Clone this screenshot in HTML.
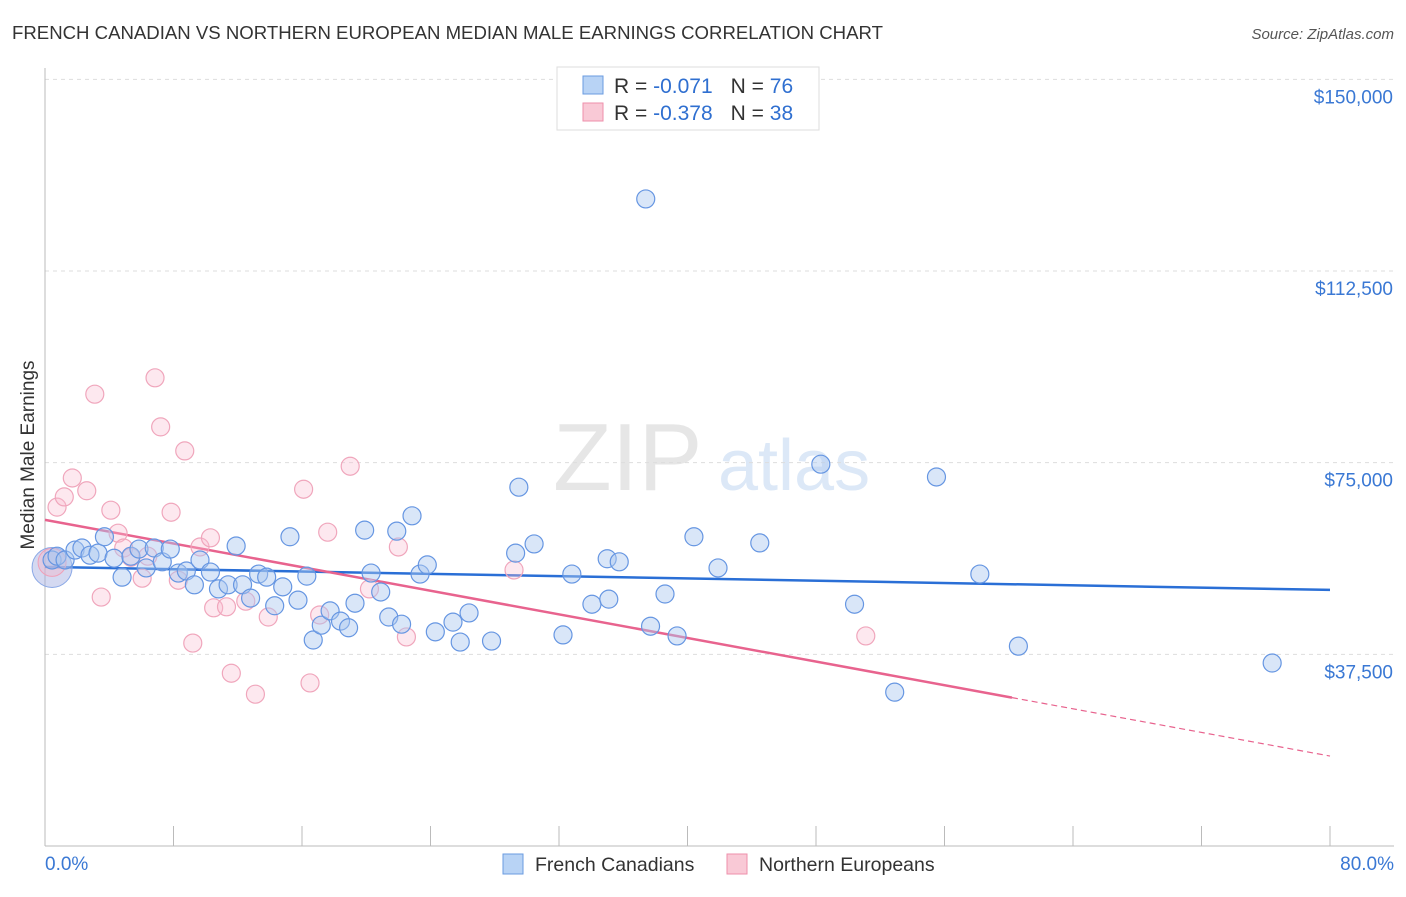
<!DOCTYPE html>
<html><head><meta charset="utf-8">
<style>
body{margin:0;background:#fff;font-family:"Liberation Sans",sans-serif;}
svg text{font-family:"Liberation Sans",sans-serif;}
</style></head>
<body>
<svg id="chart" width="1406" height="892" viewBox="0 0 1406 892" xmlns="http://www.w3.org/2000/svg">
<text x="12" y="39" font-size="18.6" fill="#333">FRENCH CANADIAN VS NORTHERN EUROPEAN MEDIAN MALE EARNINGS CORRELATION CHART</text>
<text x="1394" y="39" font-size="15" fill="#555" font-style="italic" text-anchor="end">Source: ZipAtlas.com</text>
<g>
<text x="553" y="490" font-size="96" fill="#e6e6e6" font-family="Liberation Serif,serif">ZIP</text>
<text x="718" y="490" font-size="72" fill="#dce8f7">atlas</text>
</g>
<g id="grid"></g>
<g id="axes"></g>
<g id="lines"></g>
<g id="pts"></g>
<text transform="translate(34,455) rotate(-90)" font-size="19" fill="#333" text-anchor="middle">Median Male Earnings</text>
<g>
<rect x="557" y="67" width="262" height="63" fill="#fff" stroke="#ddd"/>
<rect x="583" y="76" width="20" height="18" fill="#b8d3f5" stroke="#6a9be0"/>
<rect x="583" y="103" width="20" height="18" fill="#f9c9d6" stroke="#ee8fab"/>
<text x="614" y="93" font-size="21" fill="#333">R = <tspan fill="#2f6fd0">-0.071</tspan><tspan dx="18">N = </tspan><tspan fill="#2f6fd0">76</tspan></text>
<text x="614" y="120" font-size="21" fill="#333">R = <tspan fill="#2f6fd0">-0.378</tspan><tspan dx="18">N = </tspan><tspan fill="#2f6fd0">38</tspan></text>
</g>
<g>
<rect x="503" y="854" width="20" height="20" fill="#b8d3f5" stroke="#6a9be0"/>
<text x="535" y="871" font-size="19.5" fill="#333">French Canadians</text>
<rect x="727" y="854" width="20" height="20" fill="#f9c9d6" stroke="#ee8fab"/>
<text x="759" y="871" font-size="19.5" fill="#333">Northern Europeans</text>
</g>
</svg>
<script>
const yTicks=[37500,75000,112500,150000];
const yTickLabels=["$37,500","$75,000","$112,500","$150,000"];
const xLabels=["0.0%","80.0%"];
const blueX=[0.44,0.75,1.25,1.87,2.3,2.8,3.3,3.7,4.3,4.8,5.35,5.85,6.3,6.8,7.3,7.8,8.3,8.8,9.3,9.65,10.3,10.8,11.4,11.9,12.3,12.8,13.3,13.8,14.3,14.8,15.25,15.75,16.3,16.7,17.2,17.75,18.4,18.9,19.3,19.9,20.3,20.9,21.4,21.9,22.2,22.85,23.35,23.8,24.3,25.4,25.85,26.4,27.8,29.3,29.5,30.45,32.25,32.8,34.05,35,35.1,35.75,37.7,37.4,38.6,39.35,40.4,41.9,44.5,48.3,50.4,52.9,55.5,58.2,60.6,76.4];
const blueY=[55.96,56.7,55.96,57.9,58.3,56.9,57.3,60.5,56.3,52.6,56.7,58.1,54.4,58.3,55.6,58.1,53.4,53.8,51.1,55.96,53.6,50.3,51.1,58.7,51.1,48.5,53.2,52.6,47.0,50.7,60.5,48.1,52.8,40.3,43.2,46.0,44.0,42.7,47.5,61.8,53.4,49.7,44.8,61.6,43.4,64.6,53.2,55.0,41.9,43.8,39.9,45.6,40.1,57.3,70.2,59.1,41.3,53.2,47.3,56.2,48.3,55.6,43.0,126.6,49.3,41.1,60.5,54.4,59.3,74.7,47.3,30.1,72.2,53.2,39.1,35.8];
const pinkX=[0.75,1.2,1.7,2.6,3.1,3.5,4.1,4.55,4.9,5.35,6.05,6.4,6.85,7.2,7.85,8.3,8.7,9.2,9.65,10.3,10.5,11.3,11.6,12.5,13.1,13.9,16.1,16.5,17.1,17.6,19.0,20.2,22.0,22.5,29.2,51.1];
const pinkY=[66.3,68.3,72.0,69.5,88.4,48.7,65.7,61.2,58.3,56.5,52.4,56.7,91.6,82.0,65.3,52.0,77.3,39.7,58.5,60.3,46.6,46.8,33.8,47.9,29.7,44.8,69.8,31.9,45.2,61.4,74.3,50.3,58.5,40.9,54.0,41.1];
const blueTrend=[54.6,50.1];
const pinkTrend=[63.8,17.6];
const pinkSolidEnd=60.2;

const NS="http://www.w3.org/2000/svg";
const X0=45,X1=1330,Y0=846;
const xs=v=>X0+v/80*(X1-X0);
const ys=v=>Y0-v/37500*191.67;
const ysk=v=>ys(v*1000);
function mk(parent,tag,attrs){const e=document.createElementNS(NS,tag);for(const k in attrs)e.setAttribute(k,attrs[k]);document.getElementById(parent).appendChild(e);return e;}
yTicks.forEach((t,i)=>{
 const g=mk('grid','line',{x1:X0,x2:1394,y1:ys(t),y2:ys(t),stroke:'#ddd','stroke-dasharray':'4,4'});
 
 
 const l=mk('axes','text',{x:1393,y:ys(t)+24,'font-size':19,fill:'#3a78d4','text-anchor':'end'});
 l.textContent=yTickLabels[i];
 
 
});
const ax=mk('axes','line',{x1:X0,x2:X0,y1:68,y2:Y0,stroke:'#bbb'});


const bx=mk('axes','line',{x1:X0,x2:1394,y1:Y0,y2:Y0,stroke:'#bbb'});


for(let i=0;i<=10;i++){
 const t=mk('axes','line',{x1:xs(i*8),x2:xs(i*8),y1:826,y2:Y0,stroke:'#bbb'});
 
 
}
[[0,'start',45],[80,'end',1394]].forEach((d,i)=>{
 const l=mk('axes','text',{x:d[2],y:870,'font-size':19,fill:'#3a78d4','text-anchor':d[1]});
 l.textContent=xLabels[i];
 
 
});
const bb=mk('pts','circle',{cx:xs(0.44),cy:ysk(54.5),r:20,fill:'rgba(160,170,225,0.45)',stroke:'#8aa8e6'});


const pb=mk('pts','circle',{cx:xs(0.44),cy:ysk(55.5),r:14,fill:'rgba(245,180,200,0.4)',stroke:'#f0a0b8'});


pinkX.forEach((x,i)=>{
 const c=mk('pts','circle',{cx:xs(x),cy:ysk(pinkY[i]),r:9,fill:'rgba(248,190,208,0.35)',stroke:'#f0a6bc','stroke-width':1.2});
 
 
});
blueX.forEach((x,i)=>{
 const c=mk('pts','circle',{cx:xs(x),cy:ysk(blueY[i]),r:9,fill:'rgba(170,200,240,0.45)',stroke:'#6696e2','stroke-width':1.2});
 
 
});
const bl=mk('lines','line',{x1:xs(0),y1:ysk(blueTrend[0]),x2:xs(80),y2:ysk(blueTrend[1]),stroke:'#2a6fd6','stroke-width':2.5});


const pm=(pinkTrend[1]-pinkTrend[0])/80;
const pl=mk('lines','line',{x1:xs(0),y1:ysk(pinkTrend[0]),x2:xs(pinkSolidEnd),y2:ysk(pinkTrend[0]+pm*pinkSolidEnd),stroke:'#e8638e','stroke-width':2.5});


const pd=mk('lines','line',{x1:xs(pinkSolidEnd),y1:ysk(pinkTrend[0]+pm*pinkSolidEnd),x2:xs(80),y2:ysk(pinkTrend[1]),stroke:'#e8638e','stroke-width':1.2,'stroke-dasharray':'6,4'});


</script>
</body></html>
